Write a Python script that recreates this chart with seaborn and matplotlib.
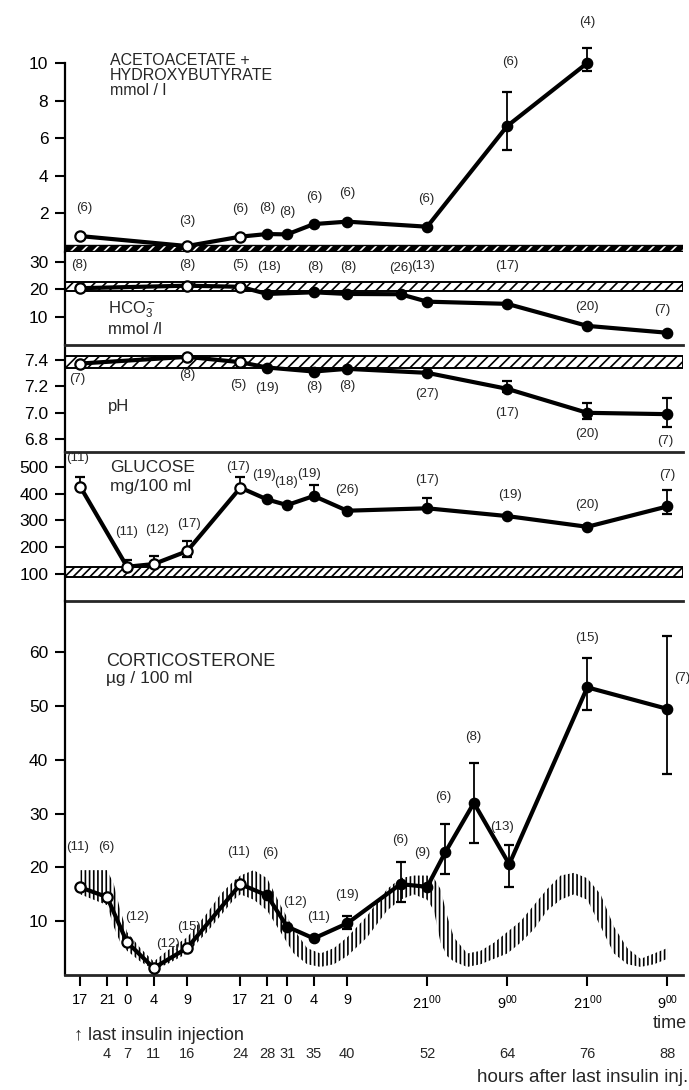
import numpy as np
import pandas as pd
import matplotlib
matplotlib.use("Agg")
import matplotlib.pyplot as plt
import seaborn as sns

# ------------------------------------------------------------------ data
# hours after last insulin injection
ace_h = [0, 16, 24, 28, 31, 35, 40, 52, 64, 76]
ace_v = [0.77, 0.24, 0.74, 0.88, 0.86, 1.41, 1.54, 1.27, 6.64, 10.0]
ace_err_lo = [0, 0, 0, 0, 0, 0, 0, 0, 1.3, 0.45]
ace_err_hi = [0, 0, 0, 0, 0, 0, 0, 0, 1.8, 0.8]
ace_n = [6, 3, 6, 8, 8, 6, 6, 6, 6, 4]
ace_norm = (-0.02, 0.3)

hco3_h = [0, 16, 24, 28, 35, 40, 48, 52, 64, 76, 88]
hco3_v = [20.4, 21.3, 20.9, 18.3, 18.9, 18.3, 18.2, 15.5, 14.7, 6.7, 4.2]
hco3_n = [8, 8, 5, 18, 8, 8, 26, 13, 17, 20, 7]
hco3_norm = (19.2, 22.8)

ph_h = [0, 16, 24, 28, 35, 40, 52, 64, 76, 88]
ph_v = [7.37, 7.42, 7.38, 7.34, 7.31, 7.33, 7.30, 7.18, 7.00, 6.99]
ph_err_lo = [0, 0, 0, 0, 0, 0, 0, 0.02, 0.05, 0.10]
ph_err_hi = [0, 0, 0, 0, 0, 0, 0, 0.06, 0.07, 0.12]
ph_n = [7, 8, 5, 19, 8, 8, 27, 17, 20, 7]
ph_norm = (7.34, 7.43)

glu_h = [0, 7, 11, 16, 24, 28, 31, 35, 40, 52, 64, 76, 88]
glu_v = [425, 127, 137, 185, 422, 378, 357, 391, 336, 345, 316, 276, 352]
glu_err_lo = [0, 0, 0, 20, 0, 0, 0, 0, 0, 0, 0, 0, 28]
glu_err_hi = [35, 27, 30, 38, 40, 0, 0, 40, 0, 37, 0, 0, 62]
glu_n = [11, 11, 12, 17, 17, 19, 18, 19, 26, 17, 19, 20, 7]
glu_norm = (90, 127)

cort_h = [0, 4, 7, 11, 16, 24, 28, 31, 35, 40, 48, 52, 54.7, 59, 64.3, 76, 88]
cort_v = [16.3, 14.5, 6.1, 1.3, 5.0, 16.9, 14.8, 9.0, 6.8, 9.6, 16.9, 16.4, 22.8, 32.0, 20.6, 53.5, 49.5]
cort_err_lo = [0, 0, 0, 0, 0, 0, 0, 0, 0, 1.0, 3.4, 0, 4.0, 7.4, 4.3, 4.2, 12.2]
cort_err_hi = [0, 0, 0, 0, 0, 0, 0, 0, 0, 1.4, 4.2, 0, 5.2, 7.4, 3.6, 5.4, 13.5]
cort_n = [11, 6, 12, 12, 15, 11, 6, 12, 11, 19, 6, 9, 6, 8, 13, 15, 7]

# normal diurnal corticosterone range (hatched)
norm_h = [0, 4, 5, 6, 7, 9, 11, 13, 16, 19, 21, 23, 24, 26, 28, 30, 32, 34, 36, 38, 40, 43, 46,
          48, 50, 52, 53, 54, 55, 56, 58, 60, 62, 64, 66, 68, 70, 72, 74, 76, 78, 80, 82, 84, 86, 88]
norm_lo = [15, 13, 9, 6, 4.5, 2.5, 1, 2, 4, 8, 11, 14, 15, 14, 12, 8, 4, 2, 1.5, 2, 3.5, 7, 12,
           14, 15, 14, 12, 6, 3.5, 2.5, 1.5, 2, 3, 4, 6, 8.5, 12, 14, 15, 14, 9, 4, 2, 1.5, 2, 3]
norm_hi = [19.5, 19.5, 17, 12, 8, 5, 2.5, 4.5, 7, 11.5, 15, 17.5, 18.5, 19.5, 18, 13, 8.5, 5, 4, 5, 7, 11, 16,
           18, 18.5, 18.5, 18, 16, 11, 7, 4, 4.5, 6, 8, 10, 13, 16, 18.5, 19, 18, 15, 9, 5, 3, 4, 5]

tick_hours = [0, 4, 7, 11, 16, 24, 28, 31, 35, 40, 52, 64, 76, 88]
clock_labels = ["17", "21", "0", "4", "9", "17", "21", "0", "4", "9",
                "21$^{00}$", "9$^{00}$", "21$^{00}$", "9$^{00}$"]
hour_labels = ["", "4", "7", "11", "16", "24", "28", "31", "35", "40", "52", "64", "76", "88"]

# ------------------------------------------------------------------ layout (pixels)
W, H = 689, 1090
LEFT_PX, RIGHT_PX = 65, 683
XLIM = (-2.3, 90.35)

# label offsets in pixels (dx, dy up)
ace_lab = ([4, 0, 0, 0, 0, 0, 0, -1, 3, 0], [28, 25, 28, 26, 22, 27, 29, 28, 64, 41])
hco3_lab = ([-1, 0, 0, 2, 1, 1, 0, -4, 0, 0, -5], [23, 21, 22, 27, 25, 27, 26, 36, 38, 19, 23])
ph_lab = ([-3, 0, -2, 0, 0, 0, 0, 0, 0, -2], [-15, -18, -23, -20, -15, -17, -21, -24, -21, -27])
glu_lab = ([-3, 0, 3, 2, -2, -3, -1, -5, 0, 0, 3, 0, 0], [29, 35, 34, 27, 21, 24, 23, 22, 21, 28, 21, 22, 31])
cort_lab = ([-3, -1, 10, 14, 2, -2, 3, 8, 5, 0, 0, -5, -2, -1, -7, 0, 15],
            [40, 50, 25, 24, 21, 32, 42, 25, 21, 28, 44, 34, 55, 66, 37, 49, 31])

sns.set_style("white")
plt.rcParams["font.family"] = ["Liberation Sans", "DejaVu Sans"]
plt.rcParams["mathtext.fontset"] = "custom"
plt.rcParams["mathtext.rm"] = "Liberation Sans"
plt.rcParams["mathtext.it"] = "Liberation Sans:italic"
plt.rcParams["hatch.linewidth"] = 1.2

fig = plt.figure(figsize=(W / 100, H / 100), dpi=100)


def px_fig(x, y):
    return x / W, 1 - y / H


def make_ax(ytop, ybot, ylim):
    ax = fig.add_axes([LEFT_PX / W, 1 - ybot / H, (RIGHT_PX - LEFT_PX) / W, (ybot - ytop) / H])
    ax.set_xlim(*XLIM)
    ax.set_ylim(*ylim)
    ax.patch.set_alpha(0)
    for s in ["top", "right", "bottom"]:
        ax.spines[s].set_visible(False)
    ax.spines["left"].set_linewidth(1.6)
    ax.spines["left"].set_color("black")
    ax.tick_params(axis="y", direction="out", length=7, width=1.5, pad=5,
                   labelsize=12.5, colors="black", left=True)
    ax.tick_params(axis="x", bottom=False, labelbottom=False)
    ax.grid(False)
    return ax


def series(ax, h, v, n, lab, err_lo=None, err_hi=None):
    h = np.asarray(h, float)
    v = np.asarray(v, float)
    df = pd.DataFrame({"h": h, "v": v})
    sns.lineplot(data=df, x="h", y="v", ax=ax, color="black", linewidth=3.0,
                 estimator=None, sort=False, zorder=3)
    if err_lo is not None:
        lo = np.asarray(err_lo, float)
        hi = np.asarray(err_hi, float)
        m = (lo + hi) > 0
        ax.errorbar(h[m], v[m], yerr=[lo[m], hi[m]], fmt="none", ecolor="black",
                    elinewidth=1.3, capsize=3.5, capthick=1.6, zorder=2.5, clip_on=False)
    is_open = h <= 24
    sns.scatterplot(x=h[is_open], y=v[is_open], ax=ax, s=55, facecolor="white",
                    edgecolor="black", linewidth=1.6, zorder=5, clip_on=False)
    sns.scatterplot(x=h[~is_open], y=v[~is_open], ax=ax, s=55, color="black",
                    edgecolor="black", linewidth=1.0, zorder=5, clip_on=False)
    for xi, yi, ni, dx, dy in zip(h, v, n, lab[0], lab[1]):
        ax.annotate(f"({ni})", xy=(xi, yi), xytext=(dx * 0.72, dy * 0.72),
                    textcoords="offset points", ha="center", va="center",
                    fontsize=9.5, annotation_clip=False, zorder=6)
    ax.set_xlabel("")
    ax.set_ylabel("")


def hatched_band(ax, lo, hi, hatch="///"):
    ax.axhspan(lo, hi, facecolor="white", edgecolor="black", hatch=hatch, linewidth=1.4, zorder=1)


# ---------------- acetoacetate
ax1 = make_ax(63, 252.4, (-0.1, 10.0))
ax1.axhspan(*ace_norm, facecolor="black", edgecolor="white", hatch="///", linewidth=0, zorder=1)
ax1.axhspan(*ace_norm, fill=False, edgecolor="black", linewidth=1.0, zorder=1.1)
series(ax1, ace_h, ace_v, ace_n, ace_lab, ace_err_lo, ace_err_hi)
ax1.set_yticks([2, 4, 6, 8, 10])

# ---------------- HCO3
ax2 = make_ax(252.4, 345, (-0.25, 33.4))
hatched_band(ax2, *hco3_norm)
series(ax2, hco3_h, hco3_v, hco3_n, hco3_lab)
ax2.set_yticks([10, 20, 30])

# ---------------- pH
ax3 = make_ax(345, 452, (6.706, 7.509))
ax3.spines["top"].set_visible(True)
ax3.spines["top"].set_linewidth(2.0)
hatched_band(ax3, *ph_norm)
series(ax3, ph_h, ph_v, ph_n, ph_lab, ph_err_lo, ph_err_hi)
ax3.set_yticks([6.8, 7.0, 7.2, 7.4])
ax3.set_yticklabels(["6.8", "7.0", "7.2", "7.4"])

# ---------------- glucose
ax4 = make_ax(452, 600.8, (0, 555))
for s in ["top", "bottom"]:
    ax4.spines[s].set_visible(True)
    ax4.spines[s].set_linewidth(2.0)
hatched_band(ax4, *glu_norm, hatch="////")
series(ax4, glu_h, glu_v, glu_n, glu_lab, glu_err_lo, glu_err_hi)
ax4.set_yticks([100, 200, 300, 400, 500])

# ---------------- corticosterone
ax5 = make_ax(600.8, 975, (0, 69.6))
ax5.spines["bottom"].set_visible(True)
ax5.spines["bottom"].set_linewidth(2.0)
ax5.fill_between(norm_h, norm_lo, norm_hi, facecolor="none", edgecolor="black",
                 hatch="||||", linewidth=0, zorder=1)
series(ax5, cort_h, cort_v, cort_n, cort_lab, cort_err_lo, cort_err_hi)
ax5.set_yticks([10, 20, 30, 40, 50, 60])
ax5.set_xticks(tick_hours)
ax5.set_xticklabels(clock_labels)
ax5.tick_params(axis="x", bottom=True, labelbottom=True, direction="out", length=8,
                width=1.5, pad=5, labelsize=10.5, colors="black")

# ---------------- texts
def ftext(x, y, s, **kw):
    fx, fy = px_fig(x, y)
    fig.text(fx, fy, s, **kw)


ftext(110, 53, "ACETOACETATE +\nHYDROXYBUTYRATE\nmmol / l", ha="left", va="top",
      fontsize=11.5, linespacing=1.0)
ftext(108, 310, "HCO$_3^-$", ha="left", va="center", fontsize=12)
ftext(108, 329, "mmol /l", ha="left", va="center", fontsize=12)
ftext(108, 407, "pH", ha="left", va="center", fontsize=12)
ftext(110, 468, "GLUCOSE", ha="left", va="center", fontsize=12.5)
ftext(110, 486, "mg/100 ml", ha="left", va="center", fontsize=12.5)
ftext(106, 662, "CORTICOSTERONE", ha="left", va="center", fontsize=13)
ftext(106, 679, "µg / 100 ml", ha="left", va="center", fontsize=12.5)

ftext(687, 1023, "time", ha="right", va="center", fontsize=13)
ftext(74, 1035, "↑ last insulin injection", ha="left", va="center", fontsize=13)
for hh, lab in zip(tick_hours, hour_labels):
    if lab:
        ax5.annotate(lab, xy=(hh, 0), xycoords=("data", "axes fraction"),
                     xytext=(0, -(1054 - 975) * 0.72), textcoords="offset points",
                     ha="center", va="center", fontsize=10.5, annotation_clip=False)
ftext(688, 1077, "hours after last insulin inj.", ha="right", va="center", fontsize=13.5)

fig.savefig("out.png", dpi=100)
